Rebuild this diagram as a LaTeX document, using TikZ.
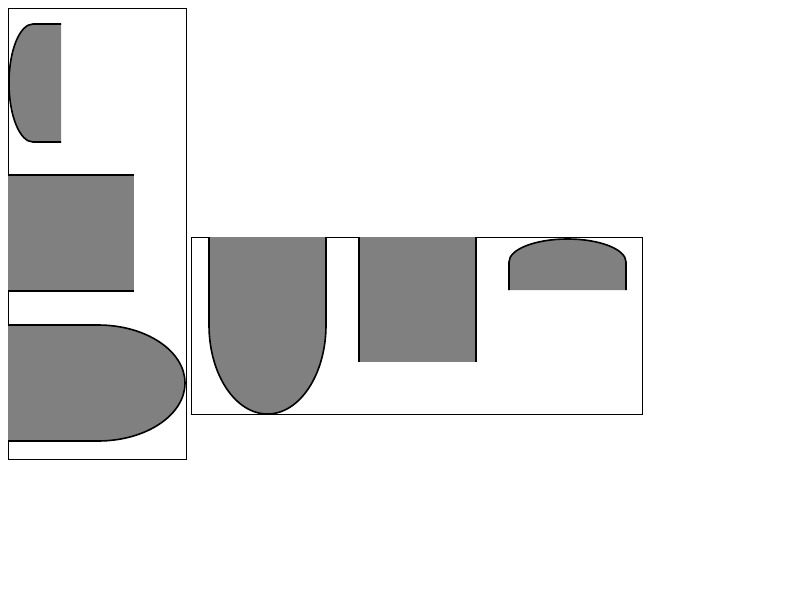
\documentclass[tikz,border=0pt]{standalone}
\begin{document}
\begin{tikzpicture}[x=1pt,y=-1pt,
  frame/.style={draw=black,line width=0.9pt},
  shapefill/.style={fill={rgb,255:red,128;green,128;blue,128}},
  edge/.style={draw=black,line width=1.6pt,line join=round}]
\useasboundingbox (0,0) rectangle (800,600);
% frames
\draw[frame] (8,8) rectangle (186,459);
\draw[frame] (191,237) rectangle (642,414);
% shape 1: left arc
\fill[shapefill] (61,24) -- (33,24) arc[start angle=90,end angle=270,x radius=24,y radius=-59] -- (61,142) -- cycle;
\draw[edge] (61,24) -- (33,24) arc[start angle=90,end angle=270,x radius=24,y radius=-59] -- (61,142);
% shape 2: rectangle top/bottom
\fill[shapefill] (8,175) rectangle (134,291);
\draw[edge] (8,175) -- (134,175);
\draw[edge] (8,291) -- (134,291);
% shape 3: right arc
\fill[shapefill] (8,325) -- (98,325) arc[start angle=90,end angle=-90,x radius=87,y radius=-58] -- (8,441) -- cycle;
\draw[edge] (8,325) -- (98,325) arc[start angle=90,end angle=-90,x radius=87,y radius=-58] -- (8,441);
% shape 4: bottom arc
\fill[shapefill] (209,237) -- (209,325) arc[start angle=180,end angle=360,x radius=58.5,y radius=-89] -- (326,237) -- cycle;
\draw[edge] (209,237) -- (209,325) arc[start angle=180,end angle=360,x radius=58.5,y radius=-89] -- (326,237);
% shape 5: rectangle sides
\fill[shapefill] (359,237) rectangle (476,362);
\draw[edge] (359,237) -- (359,362);
\draw[edge] (476,237) -- (476,362);
% shape 6: top arc
\fill[shapefill] (509,290) -- (509,262) arc[start angle=180,end angle=0,x radius=58.5,y radius=-23] -- (626,290) -- cycle;
\draw[edge] (509,290) -- (509,262) arc[start angle=180,end angle=0,x radius=58.5,y radius=-23] -- (626,290);
\end{tikzpicture}
\end{document}
